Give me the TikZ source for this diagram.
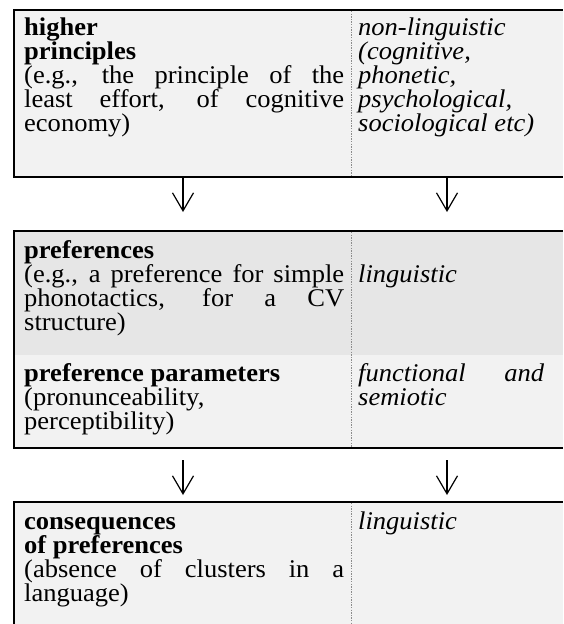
\documentclass[tikz,border=0pt]{standalone}
\usepackage{fontspec}
\setmainfont{Liberation Serif}[FakeStretch=1.04]
\usetikzlibrary{arrows.meta}
\definecolor{cellgray}{gray}{0.949}
\definecolor{cellgraydark}{gray}{0.902}
\tikzset{
  txt/.style={anchor=base west, inner sep=0pt, align=justify,
    font=\fontsize{25.5}{24}\selectfont},
  lcell/.style={txt, text width=320pt},
  rcell/.style={txt, text width=186pt},
  border/.style={line width=2pt},
  divider/.style={black!45, line width=0.9pt, dash pattern=on 1.3pt off 1.3pt},
  arr/.style={line width=1.2pt, -{Straight Barb[length=18pt,width=21pt]}}
}
\begin{document}
\hyphenpenalty=10000
\exhyphenpenalty=10000
\begin{tikzpicture}[x=1pt,y=-1pt]
\useasboundingbox (0,0) rectangle (563,624);
\fill[white] (0,0) rectangle (563,624);

% ---------- top table ----------
\fill[cellgray] (14,10) rectangle (563,177);
\draw[divider] (351,11) -- (351,176);
\draw[border] (13,10) -- (563,10);
\draw[border] (14,9) -- (14,178);
\draw[border] (13,177) -- (563,177);
\node[lcell] (hp) at (24,35) {\textbf{higher}\\\textbf{principles}\\(e.g., the principle of the\linebreak least effort, of cognitive\linebreak economy)};
\node[rcell] (nl) at (358,35) {\itshape non-linguistic\\(cognitive,\\phonetic,\\psychological,\\sociological etc)};

% ---------- arrows 1 ----------
\coordinate (a1s) at (183,177);
\coordinate (a1e) at (183,212);
\coordinate (b1s) at (447,177);
\coordinate (b1e) at (447,212);
\draw[arr] (a1s) -- (a1e);
\draw[arr] (b1s) -- (b1e);

% ---------- middle table ----------
\fill[cellgraydark] (14,231) rectangle (563,355);
\fill[cellgray] (14,355) rectangle (563,448);
\draw[divider] (351,232) -- (351,447);
\draw[border] (13,231) -- (563,231);
\draw[border] (14,230) -- (14,449);
\draw[border] (13,448) -- (563,448);
\node[lcell] (pr) at (24,258) {\textbf{preferences}\\(e.g., a preference for simple\linebreak phonotactics, for a CV\linebreak structure)};
\node[rcell] (l1) at (358,282) {\itshape linguistic};
\node[lcell] (pp) at (24,381) {\textbf{preference parameters}\\(pronunceability,\\perceptibility)};
\node[rcell] (fs) at (358,381) {\itshape functional and\linebreak semiotic};

% ---------- arrows 2 ----------
\coordinate (a2s) at (183,460);
\coordinate (a2e) at (183,495);
\coordinate (b2s) at (447,460);
\coordinate (b2e) at (447,495);
\draw[arr] (a2s) -- (a2e);
\draw[arr] (b2s) -- (b2e);

% ---------- bottom table ----------
\fill[cellgray] (14,502) rectangle (563,624);
\draw[divider] (351,503) -- (351,624);
\draw[border] (13,502) -- (563,502);
\draw[border] (14,501) -- (14,624);
\node[lcell] (cp) at (24,529) {\textbf{consequences}\\\textbf{of preferences}\\(absence of clusters in a\linebreak language)};
\node[rcell] (l2) at (358,529) {\itshape linguistic};
\end{tikzpicture}
\end{document}
